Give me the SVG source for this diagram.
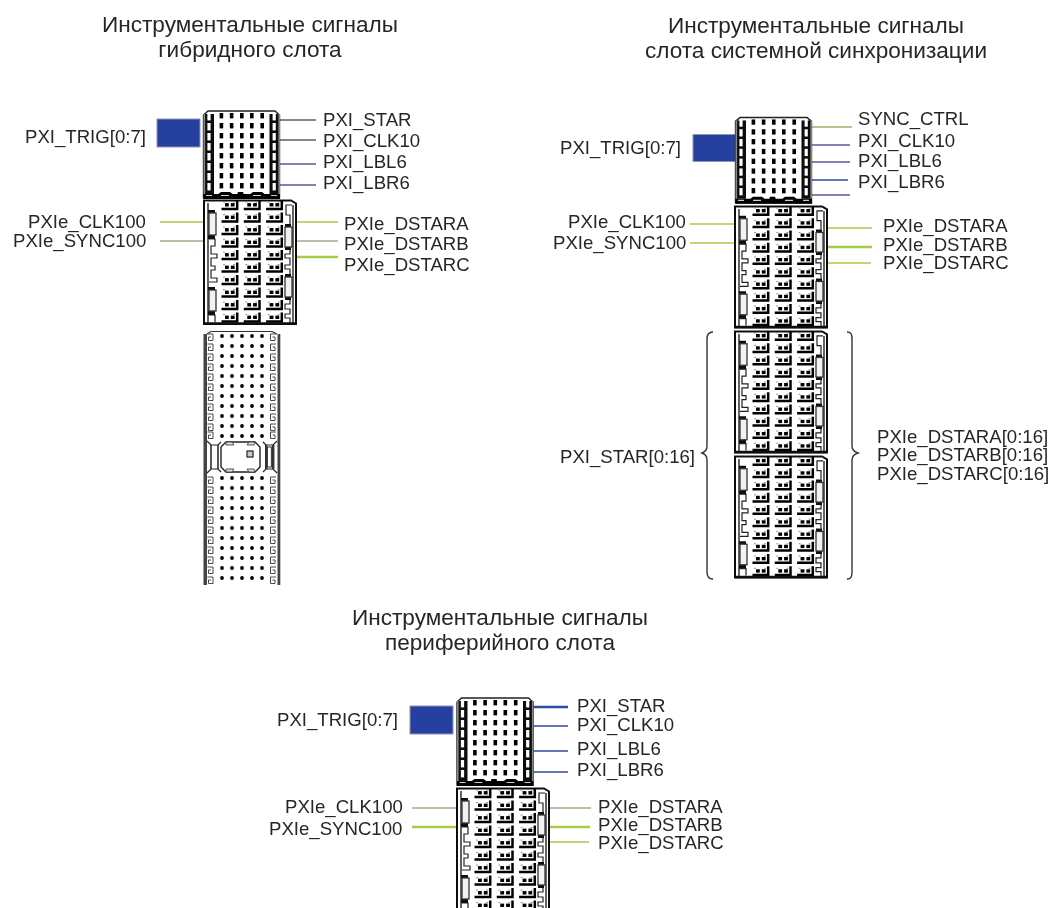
<svg xmlns="http://www.w3.org/2000/svg" width="1051" height="908" viewBox="0 0 1051 908">
<style>
text{font-family:"Liberation Sans",Arial,sans-serif;font-size:18.6px;fill:#262626}
.t{font-size:22.6px;text-anchor:middle}
.bl{fill:#25409f;stroke:#8e96b8;stroke-width:1}
.w{fill:none;stroke-width:1.6}
.g{stroke:#a6cb48}.gt{stroke:#a6cb48;stroke-width:2.6}.gy{stroke:#a9a98c}.k{stroke:#5f5f5f}.p{stroke:#555a9c}.b{stroke:#2f4a9e}.bt{stroke:#2f4a9e;stroke-width:2.4}.o{stroke:#a8ab6a}
.brace{fill:none;stroke:#333;stroke-width:1.4}
</style>
<defs>
<filter id="soft" x="-5%" y="-5%" width="110%" height="110%"><feGaussianBlur stdDeviation="0.4"/></filter>
<g id="cell">
<path d="M1 1.6H3M11 1.6H13" fill="none" stroke="#777" stroke-width=".8"/>
<rect x="3" y="2.6" width="3.8" height="3.4" fill="#000"/><rect x="8.8" y="2.6" width="3.8" height="3.4" fill="#000"/>
<path d="M-.5 8.4H15.2V-.5" fill="none" stroke="#000" stroke-width="2.5"/>
</g>
<g id="row"><use href="#cell" x="19"/><use href="#cell" x="41.3"/><use href="#cell" x="63.6"/></g>
<g id="B">
<path d="M1 125V1.500H88L93 4.500V125Z" fill="#fff" stroke="#111" stroke-width="2"/>
<path d="M5 4V124M90 6V124" fill="none" stroke="#222" stroke-width="1.4"/>
<path d="M5 11h7v3h-7zM5 36h7v4h-7zM5 88h7v3h-7zM5 112h7v4h-7zM82 25h6v3h-6zM82 48h6v3h-6zM82 75h6v3h-6zM82 98h6v3h-6z" fill="#111"/>
<path d="M6 40H12V47H8V55H14V59H8V67H12V71H8V79H14V83H6M6 116H12V123M89 6H83V16H87V25M87 51V55H82V59H87V66H82V70H87V75M87 101V105H82V110H87V115H82V119H87V124" fill="none" stroke="#222" stroke-width="1.2"/>
<rect x="6" y="14" width="7" height="22" fill="#f2f2f2" stroke="#333" stroke-width="1.3"/>
<rect x="6" y="91" width="7" height="21" fill="#f2f2f2" stroke="#333" stroke-width="1.3"/>
<rect x="82" y="28" width="7" height="20" fill="#f2f2f2" stroke="#333" stroke-width="1.3"/>
<rect x="82" y="78" width="7" height="20" fill="#f2f2f2" stroke="#333" stroke-width="1.3"/>
<use href="#row" y="1.500"/><use href="#row" y="14"/><use href="#row" y="26.500"/><use href="#row" y="39"/><use href="#row" y="51.500"/><use href="#row" y="64"/><use href="#row" y="76.500"/><use href="#row" y="89"/><use href="#row" y="101.500"/><use href="#row" y="114"/>
<path d="M1 124.500H93" stroke="#111" stroke-width="2.4"/>
</g>
<g id="dotsT"><rect x="16.6" width="3.6" height="5.4"/><rect x="26.8" width="3.6" height="5.4"/><rect x="37" width="3.6" height="5.4"/><rect x="47" width="3.6" height="5.4"/><rect x="57.4" width="3.6" height="5.4"/></g>
<g id="rung"><rect x="4.4" width="3.2" height="7.4" fill="#fff"/><rect x="69.6" width="3.2" height="7.4" fill="#fff"/></g>
<g id="A">
<path d="M5 1H72L76.500 5V88H.5V5Z" fill="#fff" stroke="#222" stroke-width="1.4"/>
<rect x=".5" y="4" width="10.500" height="80" fill="#111"/><rect x="66.500" y="4" width="10.500" height="80" fill="#111"/>
<rect x=".5" y="4" width="1.600" height="80" fill="#888"/><rect x="75.400" y="4" width="1.600" height="80" fill="#888"/>
<use href="#rung" y="3"/><use href="#rung" y="13"/><use href="#rung" y="23"/><use href="#rung" y="33"/><use href="#rung" y="43"/><use href="#rung" y="53"/><use href="#rung" y="63"/><use href="#rung" y="73"/>
<g fill="#000"><use href="#dotsT" y="3"/><use href="#dotsT" y="13"/><use href="#dotsT" y="23"/><use href="#dotsT" y="33"/><use href="#dotsT" y="43"/><use href="#dotsT" y="53"/><use href="#dotsT" y="63"/><use href="#dotsT" y="73"/></g>
<path d="M.5 84H77V89H.5ZM14 85l4-3h9l4 3ZM34 85l1-3h5l1 3ZM46 85l4-3h9l4 3Z" fill="#000"/>
<path d="M3 85.500H9M18 85.500H26M50 85.500H58M68 85.500H74" stroke="#ccc" stroke-width="1.200"/>
</g>
<g id="dotsC"><circle cx="19" r="1.900"/><circle cx="29" r="1.900"/><circle cx="39" r="1.900"/><circle cx="49" r="1.900"/><circle cx="59" r="1.900"/></g>
<g id="combs"><path d="M4.500 0H10V6.500H5.500V3H8M73 0H67.500V6.500H72V3H69.500" fill="none" stroke="#333" stroke-width=".9"/></g>
<g id="C">
<path d="M5 0H72L77 4V254H1V4Z" fill="#fff"/>
<rect x="0.5" y="3" width="3.500" height="251" fill="#444"/><rect x="74.500" y="3" width="2.800" height="251" fill="#444"/>
<path d="M4 3L8 .5H69L74 3" fill="none" stroke="#333" stroke-width="1.200"/>
<use href="#combs" y="3"/><use href="#combs" y="13"/><use href="#combs" y="23"/><use href="#combs" y="33"/><use href="#combs" y="43"/><use href="#combs" y="53"/><use href="#combs" y="63"/><use href="#combs" y="73"/><use href="#combs" y="83"/><use href="#combs" y="93"/><use href="#combs" y="101"/>
<use href="#combs" y="146"/><use href="#combs" y="156"/><use href="#combs" y="166"/><use href="#combs" y="176"/><use href="#combs" y="186"/><use href="#combs" y="196"/><use href="#combs" y="206"/><use href="#combs" y="216"/><use href="#combs" y="226"/><use href="#combs" y="236"/><use href="#combs" y="246"/>
<g fill="#000"><use href="#dotsC" y="5"/><use href="#dotsC" y="15"/><use href="#dotsC" y="25"/><use href="#dotsC" y="35"/><use href="#dotsC" y="45"/><use href="#dotsC" y="55"/><use href="#dotsC" y="65"/><use href="#dotsC" y="75"/><use href="#dotsC" y="85"/><use href="#dotsC" y="95"/><use href="#dotsC" y="105"/>
<use href="#dotsC" y="147"/><use href="#dotsC" y="157"/><use href="#dotsC" y="167"/><use href="#dotsC" y="177"/><use href="#dotsC" y="187"/><use href="#dotsC" y="197"/><use href="#dotsC" y="207"/><use href="#dotsC" y="217"/><use href="#dotsC" y="227"/><use href="#dotsC" y="237"/><use href="#dotsC" y="247"/></g>
<rect x="5" y="112" width="13" height="29" fill="#fff"/><rect x="60" y="112" width="14" height="29" fill="#fff"/>
<path d="M4 110L8 114H15L18 111M4 142L8 138H15L18 141M74 110L70 114H63L60 111M74 142L70 138H63L60 141" fill="none" stroke="#222" stroke-width="1.200"/>
<path d="M8 114V138M15 114V138" fill="none" stroke="#222" stroke-width="1.500"/>
<rect x="62" y="114" width="2.400" height="24" fill="#333"/><rect x="64.400" y="116" width="4" height="20" fill="#fff" stroke="#333" stroke-width="1"/><rect x="69" y="114" width="2.400" height="24" fill="#333"/>
<path d="M23 111H52L57 116V136L52 141H23L18 136V116Z" fill="#fff" stroke="#222" stroke-width="1.400"/>
<path d="M23 111h6l2 3h-8ZM46 111h6l-1 3h-7ZM23 141h6l2-3h-8ZM46 141h6l-1-3h-7Z" fill="#ddd" stroke="#333" stroke-width=".8"/>
<rect x="44" y="120" width="6" height="6" fill="#ccc" stroke="#222" stroke-width="1.200"/>
</g>
</defs>

<g id="connectors" class="w">
<path class="k" d="M280 120H316M280 140H316"/><path class="p" d="M280 164H316"/><path class="p" d="M280 185H316"/>
<path class="g" d="M160 222H203M297 222H338"/><path class="gt" d="M297 257H338"/><path class="gy" d="M160 241H203M297 241H338"/>
<path class="o" d="M812 127H852"/><path class="p" d="M812 145H850M812 162H850"/><path class="b" d="M812 180H848"/><path class="p" d="M812 195H850"/>
<path class="g" d="M690 224H735M690 243H735M828 228H872M828 263H871"/><path class="gt" d="M828 247H872"/>
<path class="bt" d="M532 707H568"/><path class="b" d="M532 726H568M532 751H568M532 772H568"/>
<path class="gy" d="M412 808H456M549 808H591"/><path class="gt" d="M412 827H456M549 827H590"/><path class="g" d="M549 842H589"/>
</g>
<g id="hybrid-slot">
<rect class="bl" x="157" y="119" width="43" height="28"/>
<use href="#A" x="203" y="110" filter="url(#soft)"/>
<use href="#B" x="203" y="199" filter="url(#soft)"/>
<use href="#C" x="203" y="331" filter="url(#soft)"/>
</g>
<g id="system-slot">
<rect class="bl" x="693" y="134.500" width="43" height="27"/>
<use href="#A" transform="translate(735 116.500) scale(1 .98)" filter="url(#soft)"/>
<use href="#B" transform="translate(734 205) scale(1 .98)" filter="url(#soft)"/>
<use href="#B" transform="translate(734 330) scale(1 .98)" filter="url(#soft)"/>
<use href="#B" transform="translate(734 455) scale(1 .98)" filter="url(#soft)"/>
<path class="brace" d="M713 332C709 332 707 334 707 339V446C707 450 705 452 702 453C705 454 707 456 707 460V572C707 577 709 579 713 579"/>
<path class="brace" d="M847 332C851 332 852 334 852 339V446C852 450 855 452 858 453C855 454 852 456 852 460V572C852 577 851 579 847 579"/>
</g>
<g id="peripheral-slot">
<rect class="bl" x="410" y="706" width="43" height="28"/>
<use href="#A" x="456.500" y="697" filter="url(#soft)"/>
<use href="#B" x="456" y="787" filter="url(#soft)"/>
</g>
<g id="labels" filter="url(#soft)">
<text class="t" x="250" y="32">Инструментальные сигналы</text>
<text class="t" x="250" y="57">гибридного слота</text>
<text class="t" x="816" y="33">Инструментальные сигналы</text>
<text class="t" x="816" y="58">слота системной синхронизации</text>
<text class="t" x="500" y="625">Инструментальные сигналы</text>
<text class="t" x="500" y="650">периферийного слота</text>
<text x="25" y="143">PXI_TRIG[0:7]</text>
<text x="323" y="126">PXI_STAR</text>
<text x="323" y="147">PXI_CLK10</text>
<text x="323" y="168">PXI_LBL6</text>
<text x="323" y="189">PXI_LBR6</text>
<text x="28" y="228">PXIe_CLK100</text>
<text x="13" y="247">PXIe_SYNC100</text>
<text x="344" y="230">PXIe_DSTARA</text>
<text x="344" y="250">PXIe_DSTARB</text>
<text x="344" y="271">PXIe_DSTARC</text>
<text x="858" y="125">SYNC_CTRL</text>
<text x="858" y="147">PXI_CLK10</text>
<text x="858" y="167">PXI_LBL6</text>
<text x="858" y="188">PXI_LBR6</text>
<text x="560" y="154">PXI_TRIG[0:7]</text>
<text x="568" y="228">PXIe_CLK100</text>
<text x="553" y="249">PXIe_SYNC100</text>
<text x="883" y="232">PXIe_DSTARA</text>
<text x="883" y="251">PXIe_DSTARB</text>
<text x="883" y="269">PXIe_DSTARC</text>
<text x="560" y="463">PXI_STAR[0:16]</text>
<text x="877" y="443">PXIe_DSTARA[0:16]</text>
<text x="877" y="461">PXIe_DSTARB[0:16]</text>
<text x="877" y="480">PXIe_DSTARC[0:16]</text>
<text x="277" y="726">PXI_TRIG[0:7]</text>
<text x="577" y="712">PXI_STAR</text>
<text x="577" y="731">PXI_CLK10</text>
<text x="577" y="755">PXI_LBL6</text>
<text x="577" y="776">PXI_LBR6</text>
<text x="285" y="813">PXIe_CLK100</text>
<text x="269" y="835">PXIe_SYNC100</text>
<text x="598" y="813">PXIe_DSTARA</text>
<text x="598" y="831">PXIe_DSTARB</text>
<text x="598" y="849">PXIe_DSTARC</text>
</g>
</svg>
